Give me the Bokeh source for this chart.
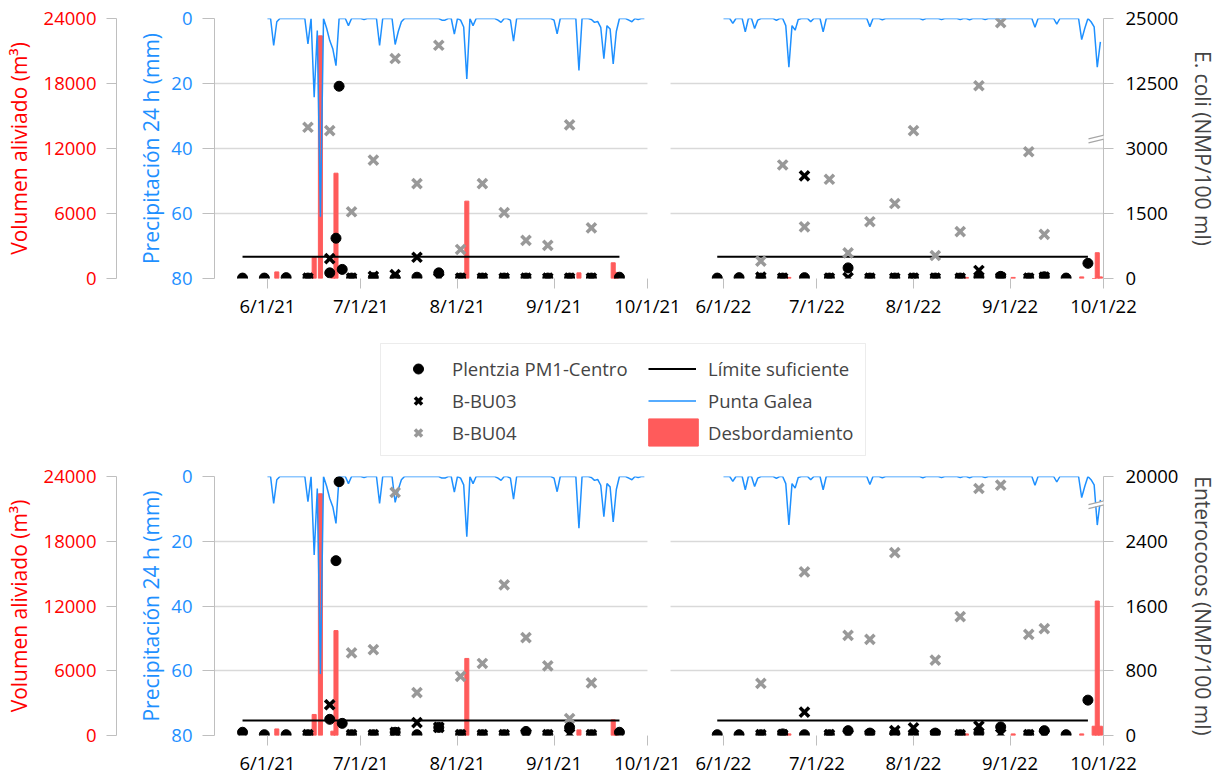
import numpy as np
import pandas as pd
from bokeh.plotting import figure
from bokeh.models import (Range1d, LinearAxis, FixedTicker, Legend,
                          BoxAnnotation, Arrow)
from bokeh.layouts import column
from bokeh.embed import file_html
from bokeh.resources import INLINE

# ---------------- data ----------------
# Daily precipitation, Punta Galea (mm / 24 h)
precip_2021_jun = [0, 0, 8.3, 1.0, 0, 0, 0, 0, 0, 0,
                   0, 0, 0, 7.8, 0, 24.2, 3.7, 61.0, 0, 3.0,
                   6.8, 9.4, 14.5, 0, 0, 0, 2.2, 0, 0, 0]
precip_2021_jul = [0, 0.3, 0, 0, 0, 0, 8.3, 0, 0, 0,
                   0, 8.0, 4.0, 1.0, 0, 0, 0, 0, 0, 0,
                   0, 0, 0, 0, 0, 0, 0.5, 0.5, 0, 0,
                   4.8]
precip_2021_aug = [0, 0.5, 2.6, 18.6, 0, 2.2, 0, 0, 0, 0,
                   0, 0, 0, 0.5, 1.2, 0, 0, 0.5, 7.0, 0,
                   0, 0, 0, 0, 0, 0, 0, 0, 0, 0,
                   0]
precip_2021_sep = [0.5, 4.7, 0, 0, 0, 0, 0, 0, 16.0, 0,
                   0, 0, 0.3, 1.2, 0.9, 2.7, 12.4, 2.2, 3.2, 14.0,
                   4.0, 0, 0, 0, 0.5, 1.0, 0, 0.3, 0, 0]
precip_2022_jun = [0, 0, 0, 1.5, 0, 0, 0, 4.1, 0, 0,
                   3.1, 0.5, 0, 0, 0, 0, 0, 0.6, 0, 0,
                   2.2, 15.0, 2.2, 3.6, 0.3, 0, 0, 0, 1.0, 0]
precip_2022_jul = [0, 0, 4.1, 0, 0, 0, 0, 0, 0, 0,
                   0, 0, 0, 0, 0, 0, 0, 2.5, 0, 0,
                   0, 0.4, 0, 0, 0, 0, 0, 0, 0, 0,
                   0]
precip_2022_aug = [0, 0, 0, 0.4, 0, 0, 0, 0, 0, 0.3,
                   0, 0, 0, 0, 0, 0.3, 0, 0, 0.4, 0,
                   0, 0, 0, 0.3, 0, 0, 0, 0, 0, 0,
                   0]
precip_2022_sep = [0, 0, 0, 0, 0, 0, 0, 0, 2.7, 0,
                   0, 0, 0, 0, 0, 1.7, 0, 0, 0, 0,
                   0, 0, 0, 6.5, 3.0, 0, 1.0, 2.6, 15.0, 7.2]

# Overflow volume (m3)
ovf_dates_2021 = ["2021-06-04", "2021-06-16", "2021-06-18", "2021-06-22", "2021-06-23",
                  "2021-08-04", "2021-09-09", "2021-09-20", "2021-09-21"]
ovf_2021 = [610, 1950, 22400, 400, 9720, 7140, 520, 1450, 560]
ovf_dates_2022 = ["2022-06-22", "2022-08-18", "2022-09-02", "2022-09-24", "2022-09-28",
                  "2022-09-29", "2022-09-30"]
ovf_2022_top = [100, 100, 100, 150, 0, 2380, 150]
ovf_2022_bottom = [150, 150, 150, 150, 860, 12460, 860]

# Plentzia PM1-Centro
dates_pm1_2021 = ["2021-05-24", "2021-05-31", "2021-06-07", "2021-06-14", "2021-06-21", "2021-06-23",
                  "2021-06-24", "2021-06-25", "2021-06-28", "2021-07-05", "2021-07-12", "2021-07-19",
                  "2021-07-26", "2021-08-02", "2021-08-09", "2021-08-16", "2021-08-23", "2021-08-30",
                  "2021-09-06", "2021-09-13", "2021-09-22"]
pm1_ecoli_2021 = [10, 10, 20, 10, 130, 930, 12100, 210, 10, 20, 10, 30, 130, 10, 10, 10, 10, 10, 10, 10, 30]
pm1_entero_2021 = [40, 10, 10, 10, 200, 2160, 18600, 150, 10, 10, 40, 10, 100, 10, 10, 10, 50, 10, 100, 10, 40]
dates_pm1_2022 = ["2022-05-30", "2022-06-06", "2022-06-13", "2022-06-20", "2022-06-27", "2022-07-05",
                  "2022-07-11", "2022-07-18", "2022-07-26", "2022-08-01", "2022-08-08", "2022-08-16",
                  "2022-08-22", "2022-08-29", "2022-09-07", "2022-09-12", "2022-09-19", "2022-09-26"]
pm1_ecoli_2022 = [10, 20, 10, 10, 20, 10, 245, 10, 10, 10, 10, 10, 30, 50, 10, 40, 10, 350]
pm1_entero_2022 = [10, 10, 10, 20, 10, 10, 60, 30, 30, 10, 30, 10, 30, 106, 10, 60, 10, 437]

# B-BU03 / B-BU04
dates_bu_2021 = ["2021-06-14", "2021-06-21", "2021-06-28", "2021-07-05", "2021-07-12", "2021-07-19",
                 "2021-07-26", "2021-08-02", "2021-08-09", "2021-08-16", "2021-08-23", "2021-08-30",
                 "2021-09-06", "2021-09-13"]
bu03_ecoli_2021 = [10, 460, 10, 50, 90, 490, 10, 10, 10, 10, 10, 10, 10, 10]
bu03_entero_2021 = [10, 380, 10, 10, 40, 160, 100, 10, 10, 10, 20, 10, 20, 10]
bu04_ecoli_2021 = [6100, 5610, 1540, 2730, 17300, 2190, 19850, 670, 2190, 1520, 880, 765, 6450, 1170]
bu04_entero_2021 = [10, 380, 1020, 1060, 15700, 530, 100, 730, 890, 1860, 1210, 860, 210, 650]
dates_bu_2022 = ["2022-06-13", "2022-06-20", "2022-06-27", "2022-07-05", "2022-07-11", "2022-07-18",
                 "2022-07-26", "2022-08-01", "2022-08-08", "2022-08-16", "2022-08-22", "2022-08-29",
                 "2022-09-07", "2022-09-12"]
bu03_ecoli_2022 = [30, 10, 2370, 10, 20, 10, 10, 10, 10, 10, 185, 20, 10, 30]
bu03_entero_2022 = [10, 10, 288, 10, 10, 10, 60, 94, 10, 10, 115, 20, 10, 10]
bu04_ecoli_2022 = [400, 2620, 1190, 2290, 590, 1310, 1730, 5610, 530, 1080, 12170, 24200, 2925, 1020]
bu04_entero_2022 = [643, 10, 2021, 10, 1237, 1188, 2260, 10, 932, 1468, 16740, 17660, 1250, 1320]

# limits ("Límite suficiente")
limit_ecoli = 500
limit_entero = 185

# axis ticks
vol_ticks = [0, 6000, 12000, 18000, 24000]
precip_ticks = [0, 20, 40, 60, 80]
ecoli_ticks = [0, 1500, 3000, 12500, 25000]
entero_ticks = [0, 800, 1600, 2400, 20000]
month_ticks = ["2021-06-01", "2021-07-01", "2021-08-01", "2021-09-01", "2021-10-01",
               "2022-06-01", "2022-07-01", "2022-08-01", "2022-09-01", "2022-10-01"]

# ---------------- style ----------------
FONT = "Open Sans"
TICK_FS = "18.5px"
TITLE_FS = "21px"
RED = "#FF0000"
BLUE = "#1E90FF"
BAR = "#FF5B5B"
GRAYM = "#999999"
GRID = "#D9D9D9"
AXC = "#BFBFBF"
FRAME_W = 889
SEASON = 139      # May 15 -> Oct 1
GAP = 7.4
XOFF = {2021: 0.0, 2022: SEASON + GAP}
XEND = 2 * SEASON + GAP
PPD = FRAME_W / XEND
BORDER_L = 214
BORDER_R = 115
MSIZE_DOT = 10
MSIZE_X = 13
MLW_X = 3.5


def xpos(dates):
    out = []
    for d in dates:
        t = pd.Timestamp(d)
        out.append((t - pd.Timestamp(year=t.year, month=5, day=15)).days + XOFF[t.year])
    return out


def daily(year, months):
    vals = sum(months, [])
    dates = pd.date_range(f"{year}-06-01", periods=len(vals), freq="D")
    return xpos(dates), vals


def disp(vals, ticks):
    return list(np.interp(vals, ticks, [0, 1, 2, 3, 4]))


def style_axis(ax, label_color="black"):
    ax.major_label_text_font = FONT
    ax.major_label_text_font_size = TICK_FS
    ax.major_label_text_color = label_color
    ax.axis_label_text_font = FONT
    ax.axis_label_text_font_size = TITLE_FS
    ax.axis_label_text_font_style = "normal"
    ax.axis_line_color = AXC
    ax.major_tick_line_color = AXC
    ax.minor_tick_line_color = None
    ax.major_tick_in = 0


def build(frame_h, top_border, bottom_border, bact_ticks, bact_sets, ovf22, limit, right_title, break_level):
    p = figure(frame_width=FRAME_W, frame_height=frame_h, x_range=Range1d(0, XEND), y_range=Range1d(80, 0),
               output_backend="svg", toolbar_location=None,
               min_border_left=BORDER_L, min_border_right=BORDER_R, min_border_top=top_border,
               min_border_bottom=bottom_border)
    p.outline_line_color = None
    p.extra_y_ranges = {"vol": Range1d(0, 24000), "disp": Range1d(0, 4)}
    p.xgrid.visible = False
    p.ygrid.ticker = FixedTicker(ticks=precip_ticks)
    p.ygrid.grid_line_color = GRID
    p.ygrid.grid_line_width = 1.3

    # x axis
    xa = p.xaxis[0]
    style_axis(xa)
    tpos = xpos(month_ticks)
    xa.ticker = FixedTicker(ticks=tpos)
    xa.major_label_overrides = {float(x): f"{pd.Timestamp(d).month}/{pd.Timestamp(d).day}/{pd.Timestamp(d).year % 100}"
                                for x, d in zip(tpos, month_ticks)}
    xa.axis_line_color = None
    xa.major_tick_out = 10
    xa.major_label_standoff = 4

    # precipitation axis (inner left)
    ya = p.yaxis[0]
    style_axis(ya, BLUE)
    ya.ticker = FixedTicker(ticks=precip_ticks)
    ya.axis_label = "Precipitación 24 h (mm)"
    ya.axis_label_text_color = BLUE
    ya.major_tick_out = 12
    ya.major_label_standoff = 10
    ya.axis_label_standoff = 3

    # blank axis used only as horizontal spacing between the two left axes
    spacer = LinearAxis(y_range_name="vol", ticker=FixedTicker(ticks=vol_ticks),
                        major_label_overrides={float(t): "\u2003" for t in vol_ticks},
                        axis_line_color=None, major_tick_line_color=None,
                        minor_tick_line_color=None, major_tick_out=0, major_tick_in=0,
                        major_label_standoff=0, major_label_text_font=FONT,
                        major_label_text_font_size="15px")
    p.add_layout(spacer, "left")

    ra = LinearAxis(y_range_name="vol", ticker=FixedTicker(ticks=vol_ticks))
    style_axis(ra, RED)
    ra.axis_label = "Volumen aliviado (m³)"
    ra.axis_label_text_color = RED
    ra.major_tick_out = 10
    ra.major_label_standoff = 10
    ra.axis_label_standoff = 8
    p.add_layout(ra, "left")

    ba = LinearAxis(y_range_name="disp", ticker=FixedTicker(ticks=[0, 1, 2, 3, 4]),
                    major_label_overrides={i: str(v) for i, v in enumerate(bact_ticks)})
    style_axis(ba)
    ba.major_tick_out = 10
    ba.major_label_standoff = 12
    ba.axis_label = right_title
    ba.axis_label_standoff = 8
    p.add_layout(ba, "right")

    # overflow bars
    p.vbar(x=xpos(ovf_dates_2021), top=ovf_2021, width=1.3, y_range_name="vol", color=BAR)
    p.vbar(x=xpos(ovf_dates_2022), top=ovf22, width=1.3, y_range_name="vol", color=BAR)
    # precipitation
    for yr, months in [(2021, [precip_2021_jun, precip_2021_jul, precip_2021_aug, precip_2021_sep]),
                       (2022, [precip_2022_jun, precip_2022_jul, precip_2022_aug, precip_2022_sep])]:
        xs, vs = daily(yr, months)
        p.line(xs, vs, color=BLUE, line_width=1.5)
    # limit lines
    for dts in (dates_pm1_2021, dates_pm1_2022):
        xx = xpos(dts)
        p.line([xx[0], xx[-1]], disp([limit, limit], bact_ticks), y_range_name="disp",
               color="black", line_width=2)
    # markers
    for (dpm, pm, dbu, b3, b4) in bact_sets:
        p.scatter(xpos(dbu), disp(b4, bact_ticks), marker="x", size=MSIZE_X, line_width=MLW_X,
                  line_color=GRAYM, y_range_name="disp")
        p.scatter(xpos(dpm), disp(pm, bact_ticks), marker="circle", size=MSIZE_DOT, color="black",
                  y_range_name="disp")
        p.scatter(xpos(dbu), disp(b3, bact_ticks), marker="x", size=MSIZE_X, line_width=MLW_X,
                  line_color="black", y_range_name="disp")

    # gap between the two seasons
    p.add_layout(BoxAnnotation(left=SEASON, right=SEASON + GAP, fill_color="white",
                               fill_alpha=1, line_color=None))

    # axis break marks
    ppu = frame_h / 4.0
    for off, col, lw in [(0, "white", 3.5), (-2, "#A6A6A6", 1.2), (2, "#A6A6A6", 1.2)]:
        p.add_layout(Arrow(end=None, x_start=XEND - 15 / PPD, y_start=break_level + (off - 3.5) / ppu,
                           x_end=XEND + 14 / PPD, y_end=break_level + (off + 3.5) / ppu,
                           line_color=col, line_width=lw, y_range_name="disp"))
    return p


top = build(260, 18, 50, ecoli_ticks,
            [(dates_pm1_2021, pm1_ecoli_2021, dates_bu_2021, bu03_ecoli_2021, bu04_ecoli_2021),
             (dates_pm1_2022, pm1_ecoli_2022, dates_bu_2022, bu03_ecoli_2022, bu04_ecoli_2022)],
            ovf_2022_top, limit_ecoli, "E. coli (NMP/100 ml)", 2.17)

bottom = build(259, 17, 40, entero_ticks,
               [(dates_pm1_2021, pm1_entero_2021, dates_bu_2021, bu03_entero_2021, bu04_entero_2021),
                (dates_pm1_2022, pm1_entero_2022, dates_bu_2022, bu03_entero_2022, bu04_entero_2022)],
               ovf_2022_bottom, limit_entero, "Enterococos (NMP/100 ml)", 3.59)

# ---------------- legend ----------------
lg = figure(frame_width=FRAME_W, frame_height=124, x_range=Range1d(0, FRAME_W), y_range=Range1d(0, 124),
            x_axis_location=None, y_axis_location=None, output_backend="svg",
            toolbar_location=None, min_border_left=BORDER_L, min_border_right=BORDER_R,
            min_border_top=7, min_border_bottom=0)
lg.outline_line_color = None
lg.grid.visible = False
# legend box (pixel-like coordinates of the legend panel)
lg.add_layout(BoxAnnotation(left=166, right=651, bottom=4, top=116, fill_alpha=0,
                            line_color=AXC, line_width=1))
# legend-only renderers: their points lie outside the visible range
r_pm = lg.scatter(x=[-50], y=[-50], marker="circle", size=MSIZE_DOT, color="black")
r_b3 = lg.scatter(x=[-50], y=[-50], marker="x", size=MSIZE_X, line_width=MLW_X, line_color="black")
r_b4 = lg.scatter(x=[-50], y=[-50], marker="x", size=MSIZE_X, line_width=MLW_X, line_color=GRAYM)
r_lim = lg.line(x=[-50, -40], y=[-50, -50], color="black", line_width=2)
r_pg = lg.line(x=[-50, -40], y=[-50, -50], color=BLUE, line_width=1.5)
r_ov = lg.vbar(x=[-50], top=[-50], bottom=[-60], width=1, color=BAR)


def mk_legend(items, loc, gw, gh, spacing, standoff):
    leg = Legend(items=items, location=loc, glyph_width=gw, glyph_height=gh, spacing=spacing,
                 label_standoff=standoff, padding=0, margin=0, border_line_color=None,
                 background_fill_alpha=0, label_text_font=FONT, label_text_font_size=TICK_FS)
    lg.add_layout(leg)


mk_legend([("Plentzia PM1-Centro", [r_pm]), ("B-BU03", [r_b3]), ("B-BU04", [r_b4])],
          (179, 14.5), 50, 25, 7, 9)
mk_legend([("Límite suficiente", [r_lim]), ("Punta Galea", [r_pg])], (434, 46.5), 48, 25, 7, 12)
mk_legend([("Desbordamiento", [r_ov])], (428, 10), 62, 34, 0, 4)

layout = column(top, lg, bottom)
open("out.html", "w").write(file_html(layout, INLINE))
